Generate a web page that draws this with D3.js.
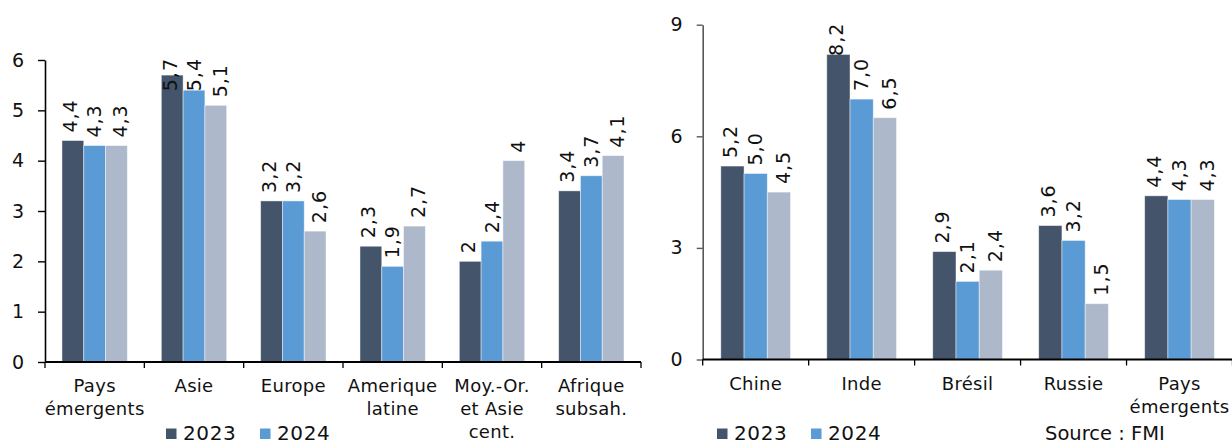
<!DOCTYPE html>
<html>
<head>
<meta charset="utf-8">
<script src="https://cdn.jsdelivr.net/npm/d3@7"></script>
<style>
  html, body { margin: 0; padding: 0; background: #fff; }
  svg { display: block; }
  text { font-family: "DejaVu Sans", sans-serif; fill: #111; }
</style>
</head>
<body>
<svg id="chart" width="1232" height="443"></svg>
<script>
// ---------- DATA ----------
const seriesNames = ["2023", "2024", "2025"];
const legendLabels = ["2023", "2024"];

const leftCategories = ["Pays\némergents", "Asie", "Europe", "Amerique\nlatine", "Moy.-Or.\net Asie\ncent.", "Afrique\nsubsah."];
const left2023 = [4.4, 5.7, 3.2, 2.3, 2.0, 3.4];
const left2024 = [4.3, 5.4, 3.2, 1.9, 2.4, 3.7];
const left2025 = [4.3, 5.1, 2.6, 2.7, 4.0, 4.1];
const leftTicks = [0, 1, 2, 3, 4, 5, 6];

const rightCategories = ["Chine", "Inde", "Brésil", "Russie", "Pays\némergents"];
const right2023 = [5.2, 8.2, 2.9, 3.6, 4.4];
const right2024 = [5.0, 7.0, 2.1, 3.2, 4.3];
const right2025 = [4.5, 6.5, 2.4, 1.5, 4.3];
const rightTicks = [0, 3, 6, 9];

const sourceText = "Source : FMI";

// ---------- STYLE ----------
const colors = ["#44546a", "#5b9bd5", "#adb9ca"];
const labelShift = [4.5, 6.5, 11];

const svg = d3.select("#chart");

const fmtLeft = v => String(v).replace(".", ",");
const fmtRight = v => d3.format(".1f")(v).replace(".", ",");

function drawPanel(cfg) {
  const g = svg.append("g");
  const x = d3.scaleBand().domain(cfg.cats).range([cfg.x0, cfg.x1]);
  const sub = d3.scaleBand().domain(seriesNames).range([0, x.bandwidth()]).paddingOuter(0.78);
  const y = d3.scaleLinear().domain([0, cfg.yMax]).range([cfg.y0, cfg.yTop]);

  const rows = [];
  cfg.series.forEach((vals, i) => {
    vals.forEach((v, j) => rows.push({ s: seriesNames[i], i, cat: cfg.cats[j], v }));
  });

  // bars
  g.selectAll("rect.bar").data(rows).join("rect")
    .attr("class", "bar")
    .attr("x", d => x(d.cat) + sub(d.s))
    .attr("y", d => y(d.v))
    .attr("width", sub.bandwidth())
    .attr("height", d => y(0) - y(d.v))
    .attr("fill", d => colors[d.i])
    .attr("stroke", "rgba(255,255,255,0.55)")
    .attr("stroke-width", 0.8);

  // value labels (rotated)
  const labels = g.selectAll("text.val").data(rows).join("text")
    .attr("class", "val")
    .style("font-size", "19px")
    .style("letter-spacing", "1px")
    .attr("text-anchor", "start")
    .text(d => cfg.fmt(d.v));
  labels.each(function(d) {
    const len = this.getComputedTextLength();
    let bottom = y(d.v) - 8;
    const limit = cfg.yTop - 2;
    if (bottom - len < limit) bottom = limit + len;
    const bx = x(d.cat) + sub(d.s) + sub.bandwidth() / 2 + labelShift[d.i];
    d3.select(this).attr("transform", `translate(${bx},${bottom}) rotate(-90)`);
  });

  // y axis
  const yAxis = d3.axisLeft(y).tickValues(cfg.ticks).tickSize(cfg.tickLen).tickSizeOuter(0).tickPadding(14)
    .tickFormat(d => String(d));
  const ya = g.append("g").attr("transform", `translate(${cfg.x0},0)`).call(yAxis);
  ya.select(".domain").attr("stroke", cfg.yAxisColor).attr("stroke-width", 1.6);
  ya.selectAll(".tick line").attr("stroke", cfg.yAxisColor).attr("stroke-width", 1.4);
  ya.selectAll(".tick text").style("font-size", "19px").style("font-family", "DejaVu Sans, sans-serif").attr("fill", "#111");

  // x axis line + boundary ticks
  g.append("line")
    .attr("x1", cfg.x0).attr("x2", cfg.x1)
    .attr("y1", cfg.y0).attr("y2", cfg.y0)
    .attr("stroke", "#000").attr("stroke-width", 2.2);
  const bounds = cfg.cats.map(c => x(c)).concat([cfg.x1]);
  g.selectAll("line.xt").data(bounds).join("line")
    .attr("class", "xt")
    .attr("x1", d => d).attr("x2", d => d)
    .attr("y1", cfg.y0).attr("y2", cfg.y0 + 6)
    .attr("stroke", "#000").attr("stroke-width", 1.3);

  // category labels
  cfg.cats.forEach(c => {
    const lines = c.split("\n");
    const t = g.append("text")
      .attr("text-anchor", "middle")
      .style("font-size", "18px")
      .style("letter-spacing", "0.3px");
    lines.forEach((ln, k) => {
      t.append("tspan")
        .attr("x", x(c) + x.bandwidth() / 2)
        .attr("y", cfg.y0 + 30 + k * 23)
        .text(ln);
    });
  });

  // legend
  cfg.legendX.forEach((lx, k) => {
    svg.append("rect")
      .attr("x", lx).attr("y", 428.5)
      .attr("width", 10.5).attr("height", 10.5)
      .attr("fill", colors[k]);
    svg.append("text")
      .attr("x", lx + 17).attr("y", 439.5)
      .style("font-size", "20px")
      .style("letter-spacing", "0.6px")
      .text(legendLabels[k]);
  });
}

drawPanel({
  cats: leftCategories,
  series: [left2023, left2024, left2025],
  ticks: leftTicks, yMax: 6,
  x0: 45, x1: 641, y0: 362, yTop: 60,
  fmt: fmtLeft, yAxisColor: "#000", tickLen: 7,
  legendX: [166, 260]
});

drawPanel({
  cats: rightCategories,
  series: [right2023, right2024, right2025],
  ticks: rightTicks, yMax: 9,
  x0: 702.7, x1: 1232.5, y0: 359.5, yTop: 24.7,
  fmt: fmtRight, yAxisColor: "#595959", tickLen: 6,
  legendX: [717, 811]
});

svg.append("text")
  .attr("x", 1045).attr("y", 439.5)
  .style("font-size", "19.5px")
  .text(sourceText);
</script>
</body>
</html>
